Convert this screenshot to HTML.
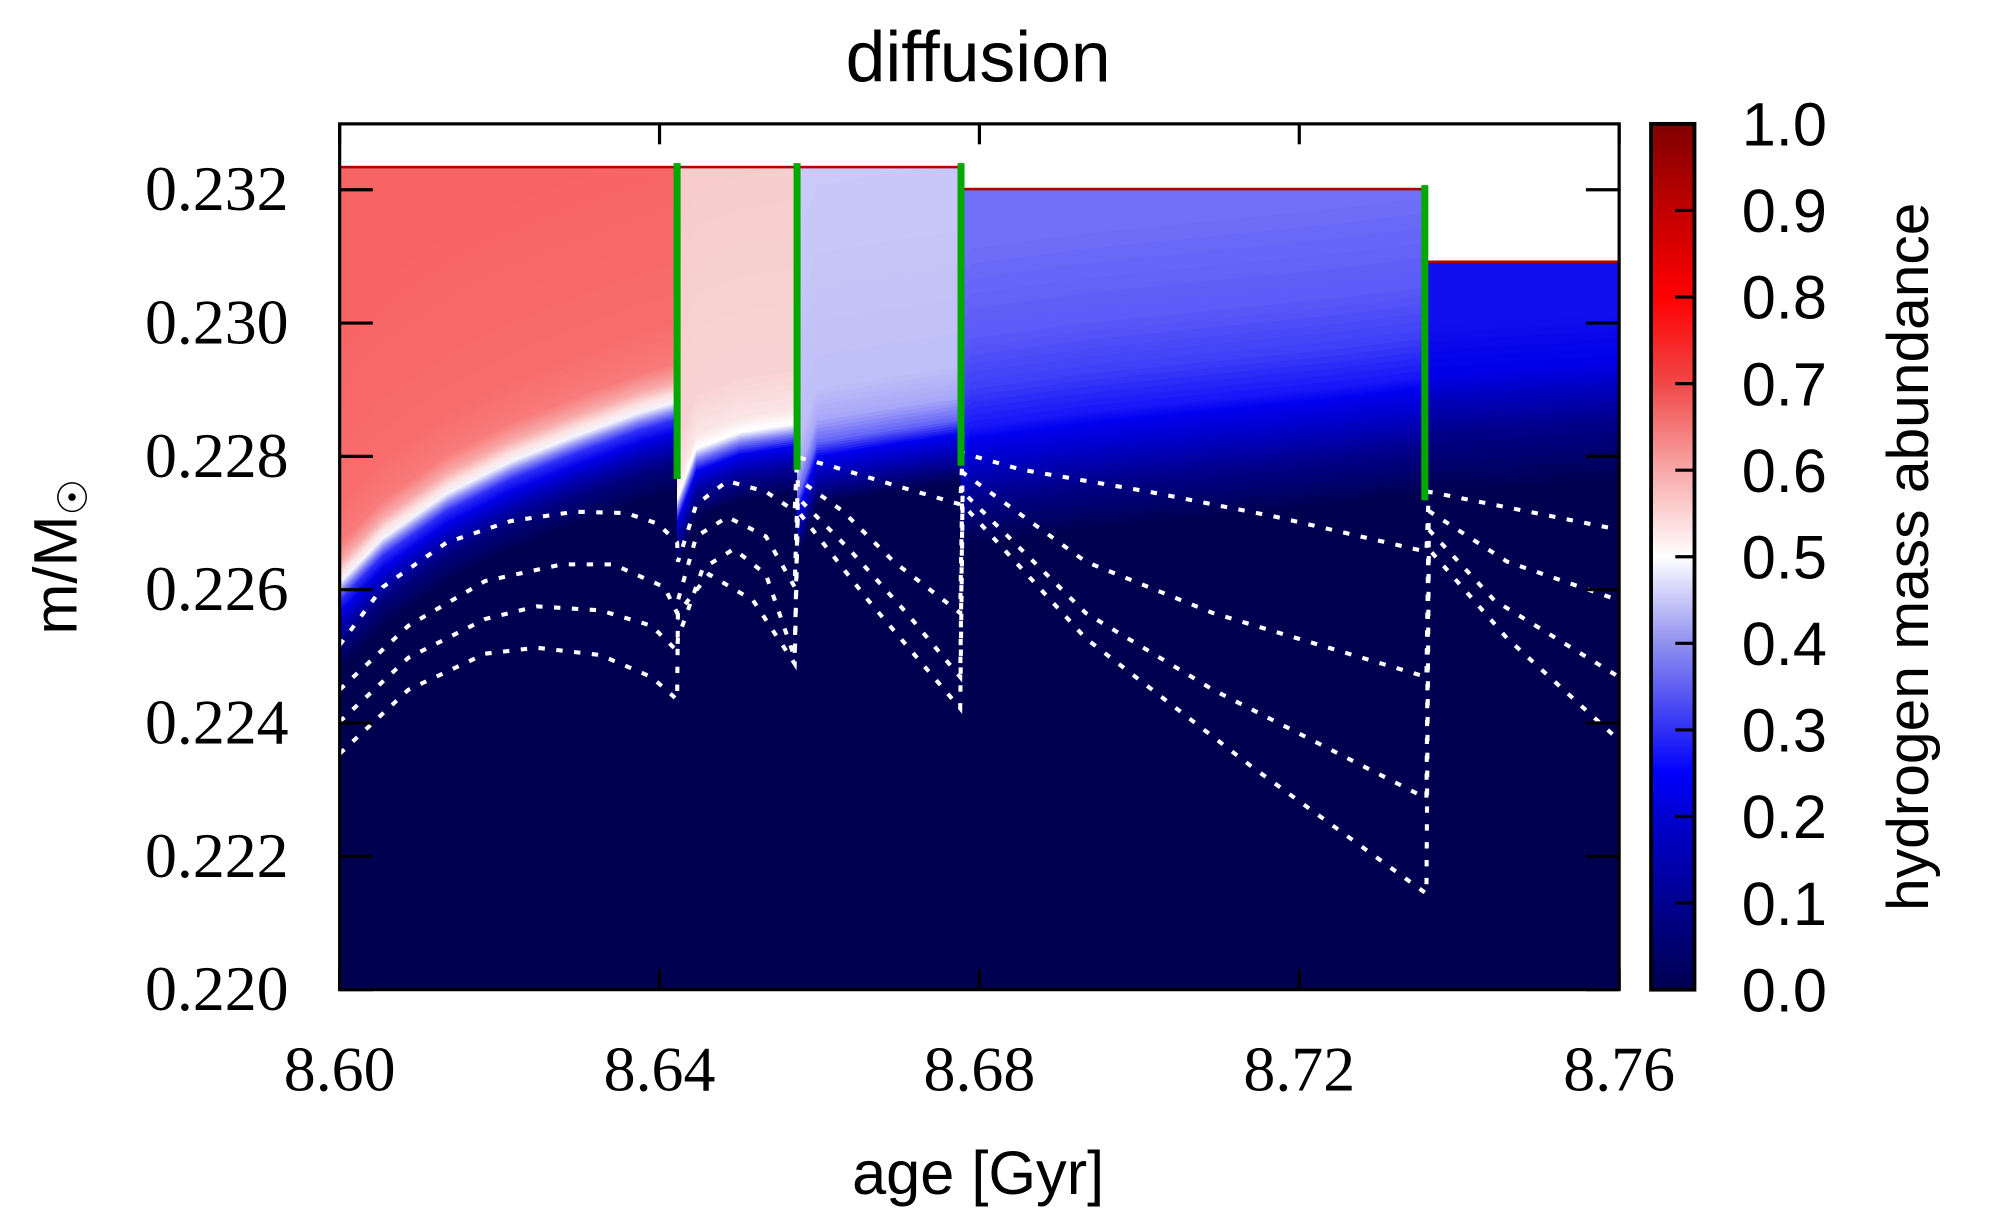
<!DOCTYPE html>
<html><head><meta charset="utf-8"><style>
html,body{margin:0;padding:0;background:#fff;}
svg{display:block;}
.serif{font-family:"Liberation Serif",serif;}
.sans{font-family:"Liberation Sans",sans-serif;}
</style></head><body>
<svg id="chart" width="1992" height="1231" viewBox="0 0 1560 964" preserveAspectRatio="none" xmlns="http://www.w3.org/2000/svg">
<defs>
<clipPath id="plotclip"><rect x="266" y="97" width="1002" height="678"/></clipPath>
<linearGradient id="cbgrad" x1="0" y1="1" x2="0" y2="0">
<stop offset="0" stop-color="#000050"/><stop offset="0.1" stop-color="#000090"/>
<stop offset="0.2" stop-color="#0000d0"/><stop offset="0.25" stop-color="#0000ff"/>
<stop offset="0.3" stop-color="#3030f4"/><stop offset="0.4" stop-color="#9090f0"/>
<stop offset="0.5" stop-color="#ffffff"/><stop offset="0.6" stop-color="#f8a8a8"/>
<stop offset="0.7" stop-color="#f04848"/><stop offset="0.8" stop-color="#ff0000"/>
<stop offset="0.9" stop-color="#c00000"/><stop offset="1" stop-color="#800000"/>
</linearGradient>
</defs>
<text class="sans" x="766" y="64" font-size="56" text-anchor="middle">diffusion</text>
<g id="plot" clip-path="url(#plotclip)">
<rect x="266" y="97" width="1002" height="678" fill="#ffffff"/>
</g>
<g id="axes"></g>
<rect x="1293" y="97" width="34" height="678" fill="url(#cbgrad)" stroke="#000" stroke-width="3"/>
<g id="cbticks"></g>
<text class="sans" x="766" y="935" font-size="48" text-anchor="middle">age [Gyr]</text>
<text class="sans" font-size="48" text-anchor="middle" transform="translate(60,436) rotate(-90)">m/M<tspan font-size="32" dy="8">☉</tspan></text>
<text class="sans" font-size="46" text-anchor="middle" transform="translate(1510,436) rotate(-90)">hydrogen mass abundance</text>
</svg>
<script>
// ---- data ----
const xTicks = [8.60, 8.64, 8.68, 8.72, 8.76];
const xTickLabels = ["8.60", "8.64", "8.68", "8.72", "8.76"];
const yTicks = [0.220, 0.222, 0.224, 0.226, 0.228, 0.230, 0.232];
const yTickLabels = ["0.220", "0.222", "0.224", "0.226", "0.228", "0.230", "0.232"];
const cbTicks = [0.0, 0.1, 0.2, 0.3, 0.4, 0.5, 0.6, 0.7, 0.8, 0.9, 1.0];
const cbTickLabels = ["0.0", "0.1", "0.2", "0.3", "0.4", "0.5", "0.6", "0.7", "0.8", "0.9", "1.0"];
// segments (age start, age end, surface mass)
const segStart = [8.6000, 8.6422, 8.6572, 8.6777, 8.7360];
const segEnd = [8.6422, 8.6572, 8.6777, 8.7360, 8.7600];
const segTop = [0.23234, 0.23234, 0.23234, 0.23201, 0.23092];
// composition transition boundary per segment
const bnd1Age = [8.6000, 8.6054, 8.6134, 8.6214, 8.6294, 8.6374, 8.6422];
const bnd1Mass = [0.22613, 0.22680, 0.22747, 0.22795, 0.22833, 0.22868, 0.22885];
const bnd2Age = [8.6422, 8.6446, 8.6501, 8.6572];
const bnd2Mass = [0.22737, 0.22814, 0.22839, 0.22852];
const bnd3Age = [8.6572, 8.6597, 8.6693, 8.6777];
const bnd3Mass = [0.22737, 0.22824, 0.22843, 0.22858];
const bnd4Age = [8.6777, 8.6789, 8.6933, 8.7092, 8.7252, 8.7360];
const bnd4Mass = [0.22824, 0.22843, 0.22866, 0.22885, 0.22904, 0.22920];
const bnd5Age = [8.7360, 8.7600];
const bnd5Mass = [0.22920, 0.22939];
// green mixing markers
const greenAge = [8.6422, 8.6572, 8.6777, 8.7357];
const greenTop = [0.23240, 0.23240, 0.23240, 0.23207];
const greenBottom = [0.22766, 0.22780, 0.22786, 0.22734];
// dotted contour lines
const c1Age = [8.6000,8.6054,8.6134,8.6214,8.6294,8.6358,8.6398,8.6422,8.6423,8.6446,8.6485,8.6533,8.6569,8.6572,8.6613,8.6693,8.6776,8.6779,8.6853,8.7012,8.7172,8.7359,8.7362,8.7600];
const c1Mass = [0.22517,0.22604,0.22671,0.22703,0.22717,0.22715,0.22699,0.22671,0.22642,0.22728,0.22763,0.22747,0.22718,0.22799,0.22786,0.22757,0.22728,0.22805,0.22780,0.22747,0.22709,0.22657,0.22747,0.22690];
const c2Age = [8.6000,8.6086,8.6182,8.6278,8.6342,8.6406,8.6422,8.6423,8.6446,8.6485,8.6533,8.6569,8.6573,8.6629,8.6693,8.6776,8.6779,8.6933,8.7092,8.7359,8.7362,8.7460,8.7600];
const c2Mass = [0.22450,0.22546,0.22613,0.22638,0.22638,0.22604,0.22565,0.22584,0.22680,0.22709,0.22680,0.22604,0.22766,0.22718,0.22642,0.22565,0.22776,0.22642,0.22565,0.22469,0.22718,0.22642,0.22584];
const c3Age = [8.6000,8.6086,8.6182,8.6246,8.6326,8.6390,8.6422,8.6423,8.6454,8.6493,8.6533,8.6569,8.6573,8.6637,8.6709,8.6776,8.6779,8.6933,8.7092,8.7359,8.7362,8.7444,8.7600];
const c3Mass = [0.22402,0.22498,0.22556,0.22575,0.22569,0.22546,0.22508,0.22527,0.22632,0.22661,0.22623,0.22498,0.22738,0.22661,0.22565,0.22469,0.22747,0.22565,0.22450,0.22287,0.22690,0.22584,0.22469];
const c4Age = [8.6000,8.6086,8.6182,8.6246,8.6326,8.6390,8.6422,8.6423,8.6462,8.6517,8.6569,8.6573,8.6661,8.6776,8.6779,8.6933,8.7140,8.7359,8.7362,8.7460,8.7600];
const c4Mass = [0.22354,0.22450,0.22504,0.22513,0.22502,0.22469,0.22435,0.22565,0.22623,0.22584,0.22489,0.22718,0.22584,0.22422,0.22728,0.22527,0.22335,0.22144,0.22661,0.22527,0.22374];

// ---- scales ----
const NS = "http://www.w3.org/2000/svg";
const X = a => 266 + (a - 8.6) / 0.16 * 1002;
const Y = m => 775 - (m - 0.22) * 52200;
const plot = document.getElementById('plot');
const axes = document.getElementById('axes');
function mk(tag, attrs, parent){ const e=document.createElementNS(NS,tag); for(const k in attrs) e.setAttribute(k,attrs[k]); parent.appendChild(e); return e; }
function hex(c){return [parseInt(c.substr(1,2),16),parseInt(c.substr(3,2),16),parseInt(c.substr(5,2),16)];}
function mix(a,b,t){const A=hex(a),B=hex(b);return 'rgb('+A.map((v,i)=>Math.round(v+(B[i]-v)*t)).join(',')+')';}

const bndAges=[bnd1Age,bnd2Age,bnd3Age,bnd4Age,bnd5Age];
const bndMasses=[bnd1Mass,bnd2Mass,bnd3Mass,bnd4Mass,bnd5Mass];
const stops=[
 [[70,'#000058'],[50,'#000080'],[38,'#0000b0'],[26,'#0000e8'],[16,'#3030f8'],[8,'#9898f8'],[2,'#f4f4fe'],[-4,'#fce4e4'],[-14,'#f8a8a8'],[-28,'#f87a7a'],[-60,'#f86c6c'],[-200,'#f86464']],
 [[55,'#000058'],[35,'#0000a0'],[20,'#0000f0'],[10,'#8080f8'],[2,'#ffffff'],[-10,'#fbe4e4'],[-40,'#f8d2d2'],[-200,'#f8cccc']],
 [[50,'#000058'],[30,'#0000b0'],[14,'#0000f0'],[2,'#6868f8'],[-15,'#a8a8f8'],[-40,'#c0c0f8'],[-200,'#cacaf8']],
 [[90,'#000058'],[55,'#000090'],[30,'#0000c8'],[10,'#0000f0'],[0,'#1818f8'],[-30,'#4040f8'],[-70,'#5c5cf8'],[-140,'#7070f8']],
 [[90,'#000058'],[45,'#000090'],[15,'#0000c8'],[0,'#0000e8'],[-40,'#1010ee']]
];
mk('rect',{x:266,y:Y(segTop[0])-200,width:1002,height:1000,fill:'#000050',},plot);
for(let s=0;s<segStart.length;s++){
  const x0=X(segStart[s]), x1=X(segEnd[s]), top=Y(segTop[s]);
  const bx=bndAges[s].map(X), by=bndMasses[s].map(Y);
  const g=mk('g',{},plot);
  
  
  const st=stops[s];
  const fine=[];
  for(let i=0;i<st.length-1;i++){
    const n=6;
    for(let k=0;k<n;k++){const t=k/n; fine.push([st[i][0]+(st[i+1][0]-st[i][0])*t, mix(st[i][1],st[i+1][1],t)]);}
  }
  fine.push([st[st.length-1][0], st[st.length-1][1]]);
  mk('rect',{x:x0,y:top,width:x1-x0+0.5,height:775-top,fill:'#000050'},g);
  fine.forEach(([off,col])=>{
    let pts=[[x0,top],[x1+0.5,top]];
    const bot=[];
    for(let i=bx.length-1;i>=0;i--){ let yy=Math.max(top,Math.min(775,by[i]+off)); bot.push([i==bx.length-1?x1+0.5:bx[i],yy]); }
    pts=pts.concat(bot);
    mk('polygon',{points:pts.map(q=>q.join(',')).join(' '),fill:col},g);
  });
  const rl=mk('line',{x1:x0,y1:top,x2:x1,y2:top,stroke:'#b00000','stroke-width':2},g);
  
  
}
for(let s=0;s<segStart.length;s++){
  const w=mk('rect',{x:X(segStart[s]),y:97,width:X(segEnd[s])-X(segStart[s])+0.5,height:Y(segTop[s])-97-1,fill:'#ffffff'},plot);
  
  
}
[[c1Age,c1Mass],[c2Age,c2Mass],[c3Age,c3Mass],[c4Age,c4Mass]].forEach((c,i)=>{
  const pl=mk('polyline',{points:c[0].map((a,j)=>X(a)+','+Y(c[1][j])).join(' '),fill:'none',stroke:'#ffffff','stroke-width':3.2,'stroke-dasharray':'5 9'},plot);
  
  
});
greenAge.forEach((a,i)=>{
  const l=mk('line',{x1:X(a),x2:X(a),y1:Y(greenTop[i]),y2:Y(greenBottom[i]),stroke:'#00a800','stroke-width':5.5},plot);
  
  
});
const fr=mk('rect',{x:266,y:97,width:1002,height:678,fill:'none',stroke:'#000','stroke-width':2.5},axes);


xTicks.forEach((v,i)=>{
  const x=X(v);
  mk('line',{x1:x,x2:x,y1:775,y2:759,stroke:'#000','stroke-width':2.5},axes);
  mk('line',{x1:x,x2:x,y1:97,y2:113,stroke:'#000','stroke-width':2.5},axes);
  const t=mk('text',{x:x,y:854,'font-size':50,'text-anchor':'middle',class:'serif'},axes);
  t.textContent=xTickLabels[i];
  
  
});
yTicks.forEach((v,i)=>{
  const y=Y(v);
  mk('line',{x1:266,x2:292,y1:y,y2:y,stroke:'#000','stroke-width':2.5},axes);
  mk('line',{x1:1268,x2:1242,y1:y,y2:y,stroke:'#000','stroke-width':2.5},axes);
  const t=mk('text',{x:226,y:y+16,'font-size':50,'text-anchor':'end',class:'serif'},axes);
  t.textContent=yTickLabels[i];
  
  
});
const cb=document.getElementById('cbticks');
cbTicks.forEach((v,i)=>{
  const y=775-v*678;
  if(v>0&&v<1) mk('line',{x1:1327,x2:1312,y1:y,y2:y,stroke:'#000','stroke-width':2.5},cb);
  const t=mk('text',{x:1364,y:y+17,'font-size':48,class:'sans'},cb);
  t.textContent=cbTickLabels[i];
  
  
});
</script>
</body></html>
